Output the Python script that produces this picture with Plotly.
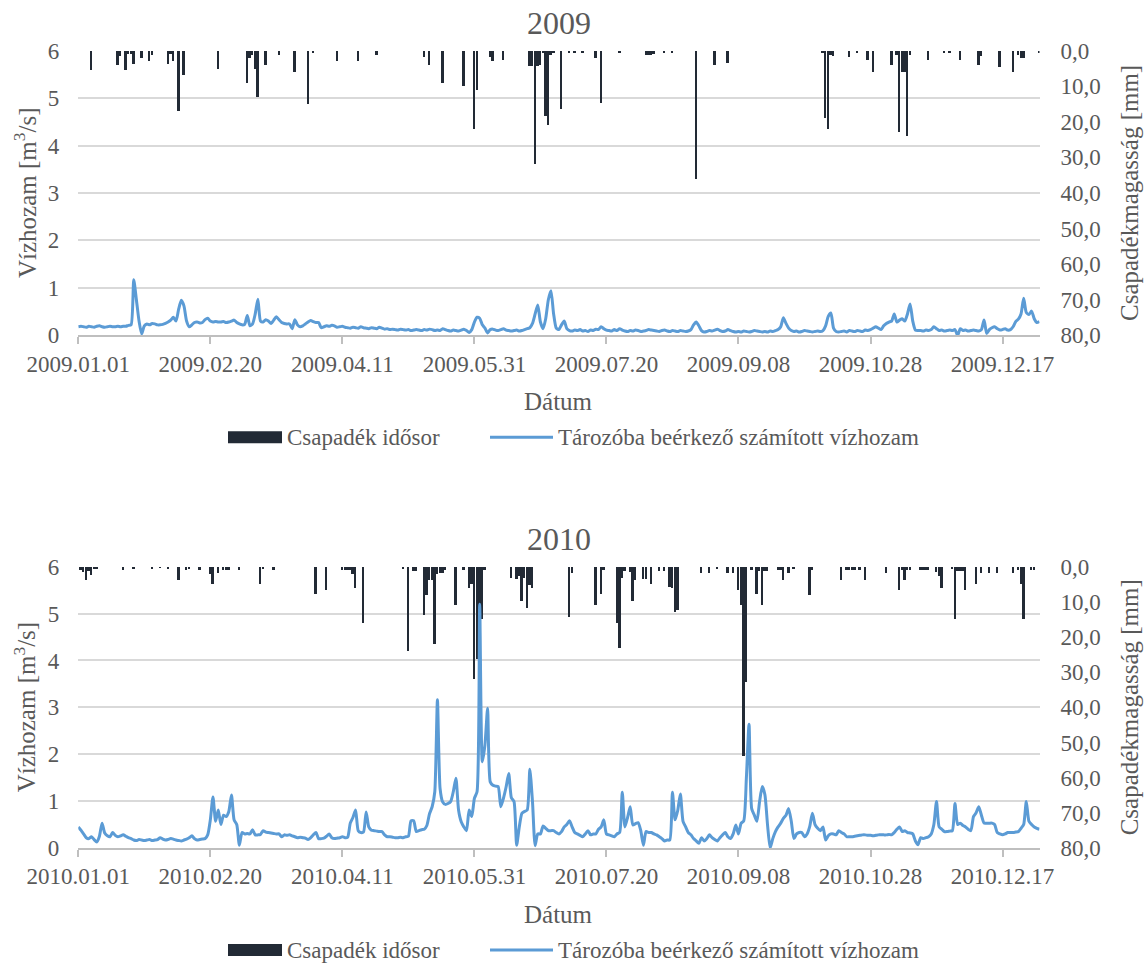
import pandas as pd
import plotly.graph_objects as go

# ---------------- data ----------------
# daily precipitation [mm], stored as (day-of-year index, value) pairs; other days are dry
rain_2009_day = [5, 15, 16, 18, 19, 20, 21, 24, 27, 28, 34, 35, 36, 38, 40, 53, 64, 65, 66, 67, 68,
                 71, 76, 82, 87, 89, 98, 106, 113, 131, 133, 138, 146, 150, 151, 156, 157, 161,
                 171, 172, 173, 174, 175, 176, 177, 178, 179, 180, 183, 186, 188, 191, 196, 198,
                 205, 215, 216, 217, 218, 222, 225, 234, 241, 246, 282, 283, 284, 285, 286, 292,
                 295, 299, 301, 308, 310, 311, 312, 313, 314, 315, 322, 328, 330, 334, 341, 342,
                 349, 354, 356, 357, 358, 364]
rain_2009_mm = [5.4, 4.0, 1.5, 5.2, 0.8, 0.8, 3.6, 2.1, 2.7, 1.0, 3.7, 0.8, 2.8, 16.9, 6.8, 5.0, 8.9, 2.0, 1.0, 5.0, 12.9,
                4.0, 1.0, 5.9, 14.8, 0.6, 2.8, 2.8, 1.0, 1.6, 3.8, 8.9, 9.8, 22.0, 11.0, 1.8, 2.8, 2.6,
                4.2, 4.2, 31.7, 4.2, 4.0, 0.5, 18.4, 20.8, 1.0, 0.5, 16.2, 0.4, 0.3, 0.5, 2.0, 14.5,
                0.3, 1.0, 1.1, 1.0, 0.9, 0.5, 0.3, 35.9, 3.8, 3.4, 0.3, 18.7, 22.0, 1.0, 1.5, 1.6,
                0.5, 2.5, 5.9, 3.8, 1.0, 22.8, 5.9, 5.9, 23.9, 1.2, 2.5, 0.5, 0.4, 2.5, 3.8, 1.5,
                4.6, 5.9, 1.0, 2.1, 2.1, 0.3]

rain_2010_day = [1, 2, 3, 4, 5, 6, 7, 17, 21, 28, 31, 34, 38, 41, 42, 46, 50, 51, 53, 55, 56, 57, 61,
                 69, 70, 74, 90, 94, 100, 101, 102, 103, 104, 105, 108, 123, 125, 127, 128, 131, 132,
                 133, 134, 135, 136, 137, 138, 139, 143, 146, 148, 149, 150, 151, 152, 153, 154, 164,
                 166, 167, 168, 169, 170, 171, 172, 186, 187, 196, 198, 199, 204, 205, 206, 207, 209,
                 210, 211, 214, 215, 217, 220, 222, 224, 225, 226, 227, 236, 239, 242, 246, 248, 250,
                 251, 252, 253, 255, 257, 258, 259, 260, 261, 265, 266, 267, 269, 271, 277, 278, 289,
                 291, 292, 293, 294, 296, 298, 306, 311, 312, 313, 314, 315, 319, 320, 321, 322, 325,
                 326, 327, 331, 332, 333, 334, 335, 336, 340, 342, 345, 348, 354, 356, 357, 358, 361, 362]
rain_2010_mm = [0.8, 1.5, 3.8, 1.0, 2.2, 0.5, 0.5, 0.8, 0.4, 0.3, 0.2, 0.3, 3.8, 0.8, 0.4, 0.8, 2.0, 4.7, 1.6, 0.8, 0.8, 0.8, 0.8,
                4.7, 0.5, 0.8, 7.8, 6.6, 0.8, 0.8, 0.8, 0.8, 2.0, 5.9, 15.8, 0.3, 23.9, 1.0, 1.0, 13.7, 7.9,
                3.8, 3.8, 21.8, 2.0, 1.6, 1.6, 0.8, 10.7, 0.8, 5.9, 4.7, 31.8, 26.1, 14.7, 14.7, 0.8, 3.1,
                3.4, 2.5, 9.8, 3.0, 11.8, 5.0, 5.9, 14.2, 1.7, 10.9, 7.8, 0.8, 15.8, 22.9, 3.0, 1.0, 1.4,
                9.8, 3.8, 3.5, 3.5, 4.7, 1.0, 1.0, 5.7, 6.0, 12.8, 12.2, 1.6, 1.6, 0.5, 1.6, 1.6, 6.6,
                10.7, 53.7, 32.7, 0.8, 7.8, 1.0, 10.9, 1.0, 1.0, 0.8, 0.8, 3.8, 1.6, 0.5, 7.9, 0.8, 3.8,
                0.8, 0.8, 0.8, 0.8, 0.8, 3.8, 1.6, 6.6, 0.8, 3.8, 0.8, 0.8, 0.8, 0.8, 0.8, 0.8, 1.5,
                2.7, 5.9, 0.5, 14.7, 1.0, 1.0, 1.0, 6.6, 4.7, 1.6, 1.6, 1.6, 1.6, 0.8, 4.7, 14.7, 0.8, 0.8]

# daily computed inflow to the reservoir [m3/s], 1 Jan .. 31 Dec
flow_2009 = [
    0.18, 0.19, 0.18, 0.17, 0.19, 0.18, 0.17, 0.19, 0.20, 0.18,
    0.17, 0.18, 0.19, 0.18, 0.18, 0.19, 0.18, 0.19, 0.19, 0.21,
    0.22, 1.17, 0.75, 0.30, 0.03, 0.20, 0.24, 0.22, 0.25, 0.24,
    0.22, 0.22, 0.23, 0.25, 0.28, 0.32, 0.38, 0.30, 0.55, 0.74,
    0.62, 0.30, 0.18, 0.22, 0.27, 0.28, 0.26, 0.27, 0.33, 0.36,
    0.30, 0.28, 0.29, 0.28, 0.28, 0.29, 0.27, 0.28, 0.30, 0.32,
    0.27, 0.24, 0.22, 0.23, 0.42, 0.20, 0.24, 0.45, 0.76, 0.30,
    0.28, 0.33, 0.30, 0.25, 0.32, 0.39, 0.33, 0.27, 0.25, 0.24,
    0.24, 0.14, 0.33, 0.22, 0.18, 0.20, 0.24, 0.28, 0.31, 0.29,
    0.27, 0.27, 0.16, 0.18, 0.20, 0.19, 0.21, 0.20, 0.17, 0.18,
    0.19, 0.17, 0.16, 0.15, 0.17, 0.16, 0.15, 0.18, 0.16, 0.15,
    0.14, 0.16, 0.15, 0.14, 0.17, 0.15, 0.13, 0.14, 0.12, 0.13,
    0.12, 0.11, 0.13, 0.12, 0.11, 0.12, 0.10, 0.11, 0.12, 0.11,
    0.10, 0.12, 0.11, 0.13, 0.12, 0.10, 0.11, 0.10, 0.14, 0.12,
    0.10, 0.09, 0.11, 0.10, 0.09, 0.11, 0.13, 0.10, 0.06, 0.12,
    0.28, 0.38, 0.36, 0.22, 0.15, 0.05, 0.12, 0.13, 0.11, 0.10,
    0.12, 0.14, 0.11, 0.10, 0.09, 0.10, 0.11, 0.09, 0.10, 0.12,
    0.14, 0.16, 0.25, 0.45, 0.64, 0.28, 0.14, 0.35, 0.75, 0.94,
    0.45, 0.15, 0.12, 0.22, 0.30, 0.14, 0.10, 0.09, 0.11, 0.10,
    0.12, 0.09, 0.10, 0.08, 0.11, 0.10, 0.13, 0.12, 0.18, 0.14,
    0.11, 0.10, 0.09, 0.12, 0.10, 0.14, 0.11, 0.09, 0.08, 0.10,
    0.09, 0.11, 0.10, 0.08, 0.09, 0.10, 0.12, 0.11, 0.10, 0.09,
    0.08, 0.10, 0.11, 0.09, 0.08, 0.10, 0.09, 0.08, 0.10, 0.09,
    0.08, 0.09, 0.12, 0.22, 0.28, 0.20, 0.10, 0.07, 0.08, 0.10,
    0.09, 0.11, 0.13, 0.10, 0.08, 0.09, 0.12, 0.10, 0.08, 0.07,
    0.08, 0.07, 0.09, 0.08, 0.07, 0.08, 0.10, 0.09, 0.08, 0.07,
    0.08, 0.07, 0.09, 0.08, 0.10, 0.12, 0.18, 0.37, 0.25, 0.15,
    0.10, 0.08, 0.09, 0.07, 0.08, 0.10, 0.09, 0.08, 0.07, 0.08,
    0.09, 0.08, 0.10, 0.20, 0.40, 0.47, 0.15, 0.08, 0.07, 0.08,
    0.09, 0.07, 0.10, 0.09, 0.08, 0.10, 0.09, 0.08, 0.11, 0.10,
    0.12, 0.15, 0.18, 0.15, 0.12, 0.20, 0.25, 0.28, 0.30, 0.45,
    0.28, 0.32, 0.35, 0.30, 0.45, 0.66, 0.30, 0.11, 0.10, 0.10,
    0.09, 0.11, 0.10, 0.12, 0.18, 0.14, 0.10, 0.11, 0.09, 0.10,
    0.11, 0.10, 0.12, 0.00, 0.14, 0.10, 0.11, 0.09, 0.10, 0.11,
    0.10, 0.09, 0.12, 0.32, 0.04, 0.12, 0.16, 0.18, 0.14, 0.11,
    0.12, 0.14, 0.11, 0.12, 0.18, 0.29, 0.34, 0.45, 0.78, 0.48,
    0.44, 0.51, 0.35, 0.27, 0.29,
]

flow_2010 = [
    0.45, 0.38, 0.30, 0.22, 0.20, 0.24, 0.18, 0.13, 0.25, 0.53,
    0.32, 0.26, 0.24, 0.33, 0.27, 0.24, 0.26, 0.28, 0.25, 0.22,
    0.20, 0.17, 0.16, 0.18, 0.17, 0.16, 0.17, 0.18, 0.16, 0.17,
    0.18, 0.22, 0.19, 0.17, 0.18, 0.20, 0.19, 0.17, 0.16, 0.15,
    0.17, 0.19, 0.22, 0.26, 0.20, 0.17, 0.18, 0.19, 0.20, 0.28,
    0.60, 1.09, 0.57, 0.81, 0.50, 0.70, 0.67, 0.78, 1.13, 0.60,
    0.50, 0.06, 0.33, 0.30, 0.31, 0.30, 0.39, 0.28, 0.28, 0.29,
    0.37, 0.34, 0.33, 0.32, 0.31, 0.30, 0.30, 0.24, 0.28, 0.27,
    0.28, 0.26, 0.24, 0.22, 0.23, 0.22, 0.21, 0.18, 0.22, 0.28,
    0.33, 0.20, 0.20, 0.21, 0.25, 0.30, 0.22, 0.20, 0.21, 0.22,
    0.24, 0.22, 0.23, 0.53, 0.65, 0.81, 0.37, 0.33, 0.34, 0.77,
    0.45, 0.38, 0.37, 0.36, 0.35, 0.35, 0.28, 0.24, 0.24, 0.23,
    0.22, 0.22, 0.23, 0.22, 0.24, 0.25, 0.58, 0.58, 0.35, 0.37,
    0.39, 0.40, 0.48, 0.73, 0.88, 1.20, 3.16, 1.27, 0.98, 0.93,
    0.95, 0.99, 1.20, 1.49, 0.81, 0.56, 0.45, 0.37, 0.81, 0.67,
    1.06, 1.20, 5.20, 1.84, 2.20, 2.98, 1.41, 1.34, 1.32, 1.31,
    0.88, 1.06, 1.30, 1.59, 1.07, 0.99, 0.06, 0.45, 0.74, 0.78,
    0.81, 1.68, 0.99, 0.05, 0.30, 0.30, 0.47, 0.42, 0.37, 0.37,
    0.37, 0.33, 0.30, 0.35, 0.45, 0.50, 0.58, 0.45, 0.33, 0.30,
    0.27, 0.24, 0.30, 0.37, 0.28, 0.30, 0.30, 0.40, 0.45, 0.60,
    0.30, 0.28, 0.26, 0.24, 0.30, 0.33, 1.19, 0.45, 0.65, 0.88,
    0.49, 0.52, 0.54, 0.37, 0.06, 0.35, 0.33, 0.33, 0.30, 0.28,
    0.24, 0.20, 0.15, 0.17, 0.17, 1.19, 0.60, 0.80, 1.15, 0.57,
    0.45, 0.33, 0.28, 0.20, 0.15, 0.10, 0.22, 0.15, 0.20, 0.28,
    0.22, 0.18, 0.15, 0.22, 0.28, 0.33, 0.24, 0.20, 0.30, 0.49,
    0.30, 0.53, 0.58, 1.50, 2.64, 0.84, 0.70, 0.57, 0.99, 1.31,
    1.14, 0.50, 0.00, 0.20, 0.35, 0.45, 0.53, 0.63, 0.70, 0.84,
    0.57, 0.20, 0.30, 0.33, 0.33, 0.24, 0.30, 0.46, 0.74, 0.50,
    0.42, 0.37, 0.45, 0.17, 0.26, 0.30, 0.30, 0.28, 0.37, 0.33,
    0.30, 0.24, 0.24, 0.24, 0.25, 0.26, 0.27, 0.28, 0.28, 0.27,
    0.27, 0.26, 0.27, 0.28, 0.28, 0.28, 0.28, 0.29, 0.28, 0.33,
    0.40, 0.45, 0.35, 0.37, 0.33, 0.32, 0.30, 0.15, 0.07, 0.22,
    0.20, 0.22, 0.24, 0.30, 0.50, 0.99, 0.45, 0.40, 0.35, 0.35,
    0.36, 0.37, 0.95, 0.50, 0.53, 0.48, 0.45, 0.40, 0.37, 0.67,
    0.75, 0.88, 0.70, 0.53, 0.53, 0.53, 0.53, 0.50, 0.33, 0.30,
    0.28, 0.30, 0.33, 0.33, 0.33, 0.34, 0.35, 0.42, 0.50, 0.99,
    0.57, 0.50, 0.45, 0.42, 0.40,
]

tick_labels_2009 = ["2009.01.01", "2009.02.20", "2009.04.11", "2009.05.31",
                    "2009.07.20", "2009.09.08", "2009.10.28", "2009.12.17"]
tick_labels_2010 = ["2010.01.01", "2010.02.20", "2010.04.11", "2010.05.31",
                    "2010.07.20", "2010.09.08", "2010.10.28", "2010.12.17"]

years = ["2009", "2010"]
rain_name = "Csapadék idősor"
flow_name = "Tározóba beérkező számított vízhozam"

# ---------------- styling ----------------
W, H = 1147, 963
FONT = "'Liberation Serif', 'Times New Roman', 'DejaVu Serif', serif"
TXT = "#595959"
BAR_C = "#222a35"
LINE_C = "#5b9bd5"
GRID_C = "#d9d9d9"
AXIS_C = "#bfbfbf"

X0, X1 = 78.3, 1039.5                     # plot area, pixels
PANELS = [(50.7, 335.3), (566.7, 848.0)]  # (top, bottom) of each plot area, pixels


def fx(p):
    return p / W


def fy(p):
    return 1 - p / H


fig = go.Figure()
series = [
    (rain_2009_day, rain_2009_mm, flow_2009, tick_labels_2009),
    (rain_2010_day, rain_2010_mm, flow_2010, tick_labels_2010),
]

layout = dict(
    width=W, height=H, margin=dict(l=0, r=0, t=0, b=0, autoexpand=False),
    paper_bgcolor="white", plot_bgcolor="white",
    font=dict(family=FONT, color=TXT, size=23),
    separators=",.", showlegend=False, bargap=0,
)

annotations = []
shapes = []
day_ms = 86400000

for i, (rday, rmm, flow, tlabels) in enumerate(series):
    year = years[i]
    start = pd.Timestamp(f"{year}-01-01")
    xa = "x" if i == 0 else "x2"
    ya_rain = "y" if i == 0 else "y3"
    ya_flow = "y2" if i == 0 else "y4"
    top, bot = PANELS[i]

    rain_x = start + pd.to_timedelta(rday, unit="D")
    flow_x = pd.date_range(start, periods=len(flow), freq="D")

    fig.add_trace(go.Bar(
        x=rain_x, y=rmm, xaxis=xa, yaxis=ya_rain, name=rain_name,
        marker=dict(color=BAR_C, line=dict(width=0)), width=0.9 * day_ms,
    ))
    fig.add_trace(go.Scatter(
        x=flow_x, y=flow, xaxis=xa, yaxis=ya_flow, name=flow_name, mode="lines",
        line=dict(color=LINE_C, width=3, shape="spline", smoothing=0.6),
    ))

    tickvals = [pd.to_datetime(t, format="%Y.%m.%d") for t in tlabels]
    xkey = "xaxis" if i == 0 else "xaxis2"
    rkey = "yaxis" if i == 0 else "yaxis3"
    fkey = "yaxis2" if i == 0 else "yaxis4"
    ydom = [fy(bot), fy(top)]

    layout[xkey] = dict(
        domain=[fx(X0), fx(X1)], anchor=ya_rain, type="date", automargin=False,
        range=[start, start + pd.Timedelta(days=364)],
        tickvals=tickvals, ticktext=tlabels,
        showgrid=False, showline=True, linecolor=AXIS_C, linewidth=1.5,
        ticks="outside", ticklen=7, tickcolor=AXIS_C, tickwidth=1.5,
        tickfont=dict(family=FONT, size=23, color=TXT), zeroline=False,
    )
    layout[rkey] = dict(
        domain=ydom, anchor=xa, side="right", range=[80, 0], automargin=False,
        tick0=0, dtick=10, tickformat=".1f", showgrid=False, zeroline=False,
        tickfont=dict(family=FONT, size=23, color=TXT), ticklabelstandoff=20,
    )
    layout[fkey] = dict(
        domain=ydom, anchor=xa, overlaying=ya_rain, side="left", range=[0, 6],
        automargin=False, tick0=0, dtick=1, showgrid=True, gridcolor=GRID_C,
        gridwidth=1.8, zeroline=False,
        tickfont=dict(family=FONT, size=23, color=TXT), ticklabelstandoff=18,
    )

    mid = (top + bot) / 2
    # panel title
    annotations.append(dict(text=year, x=fx((X0 + X1) / 2), y=fy(top - 28),
                            xref="paper", yref="paper", showarrow=False,
                            font=dict(family=FONT, size=32, color=TXT),
                            xanchor="center", yanchor="middle"))
    # axis titles
    annotations.append(dict(text="Vízhozam [m<sup>3</sup>/s]", x=fx(25), y=fy(mid),
                            xref="paper", yref="paper", showarrow=False, textangle=-90,
                            font=dict(family=FONT, size=25, color=TXT),
                            xanchor="center", yanchor="middle"))
    annotations.append(dict(text="Csapadékmagasság [mm]", x=fx(1129), y=fy(mid),
                            xref="paper", yref="paper", showarrow=False, textangle=-90,
                            font=dict(family=FONT, size=25, color=TXT),
                            xanchor="center", yanchor="middle"))
    annotations.append(dict(text="Dátum", x=fx((X0 + X1) / 2), y=fy(bot + 66),
                            xref="paper", yref="paper", showarrow=False,
                            font=dict(family=FONT, size=25, color=TXT),
                            xanchor="center", yanchor="middle"))

    # legend row
    ly = bot + 102
    shapes.append(dict(type="rect", xref="paper", yref="paper",
                       x0=fx(228), x1=fx(282), y0=fy(ly - 6), y1=fy(ly + 6),
                       fillcolor=BAR_C, line=dict(width=0)))
    annotations.append(dict(text=rain_name, x=fx(285), y=fy(ly), xref="paper", yref="paper",
                            showarrow=False, xanchor="left", yanchor="middle",
                            font=dict(family=FONT, size=23, color=TXT)))
    shapes.append(dict(type="line", xref="paper", yref="paper",
                       x0=fx(490), x1=fx(553), y0=fy(ly), y1=fy(ly),
                       line=dict(color=LINE_C, width=3)))
    annotations.append(dict(text=flow_name, x=fx(556), y=fy(ly), xref="paper", yref="paper",
                            showarrow=False, xanchor="left", yanchor="middle",
                            font=dict(family=FONT, size=23, color=TXT)))

layout["annotations"] = annotations
layout["shapes"] = shapes
fig.update_layout(**layout)

fig.write_html("out.html")
